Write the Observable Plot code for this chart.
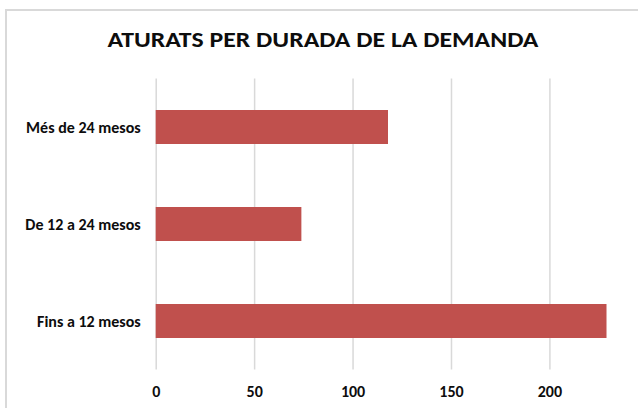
<!DOCTYPE html>
<html>
<head>
<meta charset="utf-8">
<script src="https://cdn.jsdelivr.net/npm/d3@7"></script>
<script src="https://cdn.jsdelivr.net/npm/@observablehq/plot@0.6"></script>
<style>
  html, body { margin: 0; padding: 0; background: #fff; }
  #wrap { position: relative; width: 638px; height: 408px; overflow: hidden; background: #fff; }
  #frame { position: absolute; left: 5px; top: 9px; width: 700px; height: 500px;
           border-left: 2px solid #d9d9d9; border-top: 2px solid #d9d9d9; box-sizing: border-box; }
  #title { position: absolute; left: 8px; top: 0; width: 630px; height: 60px;
           text-align: center; font-family: Carlito, "Open Sans", sans-serif; font-weight: 700;
           font-size: 23px; line-height: 1; color: #0d0d0d; padding-top: 28px; box-sizing: border-box;
           transform: scaleX(1.12); transform-origin: 50% 0; }
  #chart { position: absolute; left: 0; top: 60px; }
</style>
</head>
<body>
<div id="wrap">
  <div id="frame"></div>
  <div id="title">ATURATS PER DURADA DE LA DEMANDA</div>
  <div id="chart"></div>
</div>
<script>
const categories = ["Més de 24 mesos", "De 12 a 24 mesos", "Fins a 12 mesos"];
const values = [118, 74, 229];
const xTicks = [0, 50, 100, 150, 200];

const data = categories.map((c, i) => ({category: c, value: values[i]}));

const plot = Plot.plot({
  width: 638,
  height: 348,
  marginLeft: 155.7,
  marginRight: 0,
  marginTop: 18.5,
  marginBottom: 38.5,
  style: {fontFamily: 'Carlito, "Open Sans", sans-serif', fontSize: "16px", fontWeight: "bold", color: "#0d0d0d", background: "transparent"},
  x: {domain: [0, 245], ticks: xTicks, tickSize: 0, tickPadding: 16, label: null, tickFormat: d => String(d)},
  y: {domain: categories, paddingInner: 0.65, paddingOuter: 0.325, tickSize: 0, tickPadding: 15.5, label: null},
  marks: [
    Plot.ruleX(xTicks, {stroke: "#d9d9d9", strokeWidth: 1.5}),
    Plot.barX(data, {x: "value", y: "category", fill: "#C0504D"})
  ]
});
document.getElementById("chart").appendChild(plot);
</script>
</body>
</html>
